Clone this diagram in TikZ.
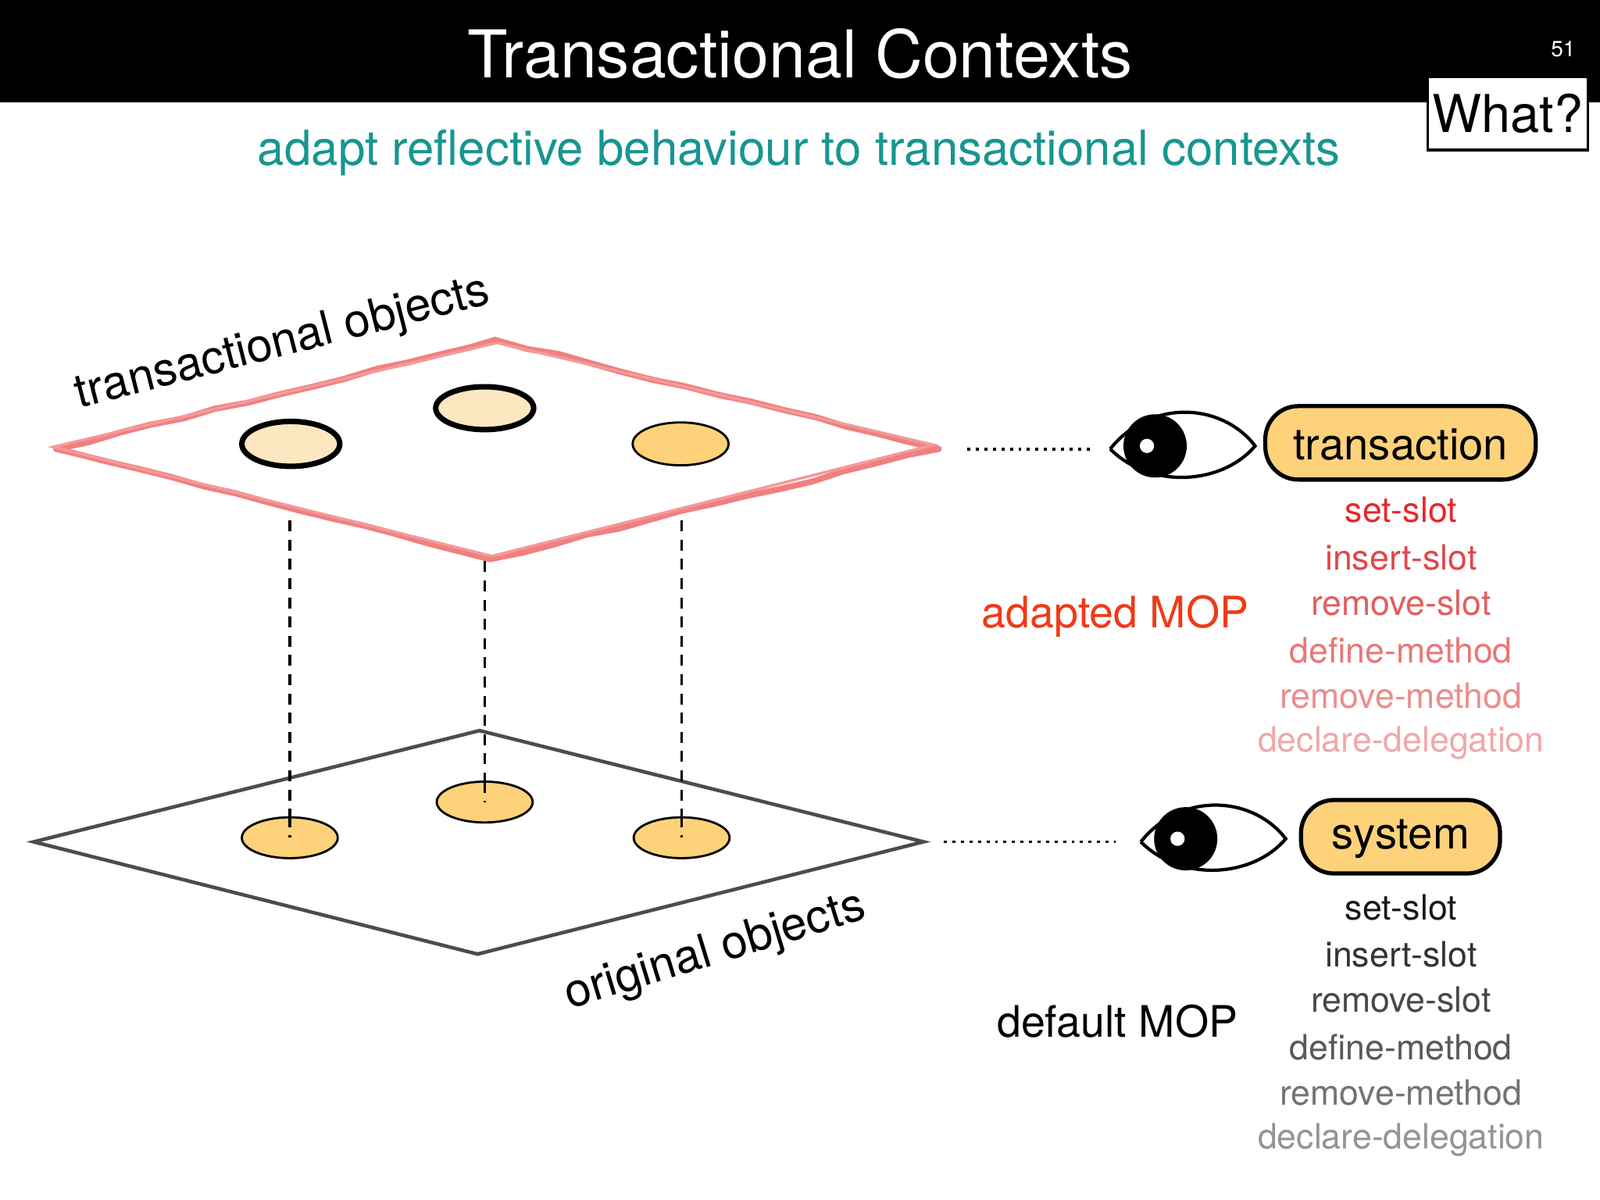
\documentclass[tikz,border=0pt]{standalone}
\usepackage{fontspec}
\setmainfont{TeX Gyre Heros}
\usetikzlibrary{decorations.pathmorphing}
\definecolor{gold}{HTML}{FDD27A}
\definecolor{pale}{HTML}{FDE7C0}
\definecolor{teal2}{HTML}{17968F}
\definecolor{salmon}{HTML}{F08080}
\begin{document}
\begin{tikzpicture}[x=0.013061cm,y=-0.013061cm,
  gobj/.style={fill=gold,draw=black,line width=0.8pt},
  pobj/.style={fill=pale,draw=black,line width=2pt},
  vlink/.style={line width=1pt,dash pattern=on 4pt off 3pt},
  hlink/.style={dotted,line width=1.1pt},
  role/.style={draw=black,line width=1.5pt,fill=gold,rounded corners=12pt},
  rolet/.style={font=\fontsize{16pt}{18pt}\selectfont},
  item/.style={font=\fontsize{12.7pt}{14pt}\selectfont,anchor=center}]
\useasboundingbox (0,0) rectangle (1568,1176);
\fill[white] (0,0) rectangle (1568,1176);
% title
\fill[black] (0,0) rectangle (1568,100);
\node[white,font=\fontsize{24pt}{28pt}\selectfont] (title) at (784,53) {Transactional Contexts};
\node[white,font=\fontsize{8pt}{9pt}\selectfont] (num) at (1532,48) {51};
\draw[black,fill=white,line width=1pt] (1399,75) rectangle (1556,147);
\node[font=\fontsize{19pt}{21pt}\selectfont] (whatt) at (1477.5,111) {What?};
\node[teal2,font=\fontsize{17.6pt}{19pt}\selectfont] (sub) at (783,150) {adapt reflective behaviour to transactional contexts};
% planes
\draw[salmon,line width=2.2pt,line join=round,decorate,decoration={random steps,segment length=12pt,amplitude=0.6pt}]
  (55,440) -- (485,333) -- (920,440) -- (480,548) -- cycle;
\draw[salmon!80,line width=1pt] (52,438) -- (487,336) -- (915,436) -- (482,545) -- cycle;
\draw[black!70,line width=1.3pt] (33,825) -- (470,716) -- (905,825) -- (468,935) -- cycle;
\node[rotate=14.3,font=\fontsize{17pt}{19pt}\selectfont] (tlab) at (277,337) {transactional objects};
\node[rotate=17,font=\fontsize{17pt}{19pt}\selectfont] (olab) at (701,933) {original objects};
% objects
\coordinate (t1) at (285,435); \coordinate (t2) at (475,400); \coordinate (t3) at (667,435);
\coordinate (b1) at (284,821); \coordinate (b2) at (475,786); \coordinate (b3) at (668,821);
\coordinate (u1) at (284,510); \coordinate (u2) at (475,550); \coordinate (u3) at (668,510);
\draw[vlink] (u1) -- (b1);
\draw[vlink] (u2) -- (b2);
\draw[vlink] (u3) -- (b3);
\draw[pobj] (t1) ellipse (48 and 22);
\draw[pobj] (t2) ellipse (48 and 21);
\draw[gobj] (t3) ellipse (47 and 21);
\draw[gobj] (b1) ellipse (47 and 20);
\draw[gobj] (b2) ellipse (47 and 20);
\draw[gobj] (b3) ellipse (47 and 20);
\coordinate (v1) at (284,800); \coordinate (v2) at (475,766); \coordinate (v3) at (668,800);
\draw[vlink] (v1) -- (b1);
\draw[vlink] (v2) -- (b2);
\draw[vlink] (v3) -- (b3);
% eyes
\foreach \ex/\ey/\nm in {1088/440/e1, 1118/825/e2}{
  \draw[black,line width=1.2pt,fill=white] (\ex,\ey) .. controls (\ex+40,\ey-50) and (\ex+110,\ey-45) .. (\ex+142,\ey-3)
     .. controls (\ex+110,\ey+35) and (\ex+40,\ey+40) .. (\ex,\ey);
  \fill[black] (\ex+44,\ey-3) circle (31);
  \fill[white] (\ex+36,\ey-3) circle (7);
  \coordinate (\nm) at (\ex,\ey);
}
\coordinate (d1) at (948,440); \coordinate (d1e) at (1073,440);
\coordinate (d2) at (925,825); \coordinate (d2e) at (1093,825);
\draw[hlink] (d1) -- (d1e);
\draw[hlink] (d2) -- (d2e);
% role boxes
\draw[role] (1240,398) rectangle (1505,470);
\node[rolet] (trt) at (1372.5,436) {transaction};
\draw[role] (1275,784) rectangle (1470,856);
\node[rolet] (syt) at (1372.5,822) {system};
% lists
\node[item,color={rgb,255:red,232;green,38;blue,42}] (a1) at (1373,500) {set-slot};
\node[item,color={rgb,255:red,224;green,71;blue,74}] (a2) at (1373,546) {insert-slot};
\node[item,color={rgb,255:red,227;green,94;blue,94}] (a3) at (1373,591) {remove-slot};
\node[item,color={rgb,255:red,232;green,120;blue,120}] (a4) at (1373,637) {define-method};
\node[item,color={rgb,255:red,236;green,140;blue,140}] (a5) at (1373,682) {remove-method};
\node[item,color={rgb,255:red,240;green,168;blue,168}] (a6) at (1373,728) {declare-delegation};
\node[item,color=black!90] (s1) at (1373,889) {set-slot};
\node[item,color=black!80] (s2) at (1373,935) {insert-slot};
\node[item,color=black!72] (s3) at (1373,980) {remove-slot};
\node[item,color=black!65] (s4) at (1373,1026) {define-method};
\node[item,color=black!55] (s5) at (1373,1071) {remove-method};
\node[item,color=black!42] (s6) at (1373,1117) {declare-delegation};
\node[font=\fontsize{15.8pt}{18pt}\selectfont,color={rgb,255:red,240;green,58;blue,23}] (amop) at (1093,604) {adapted MOP};
\node[font=\fontsize{15.8pt}{18pt}\selectfont] (dmop) at (1095,1001) {default MOP};
\end{tikzpicture}
\end{document}
